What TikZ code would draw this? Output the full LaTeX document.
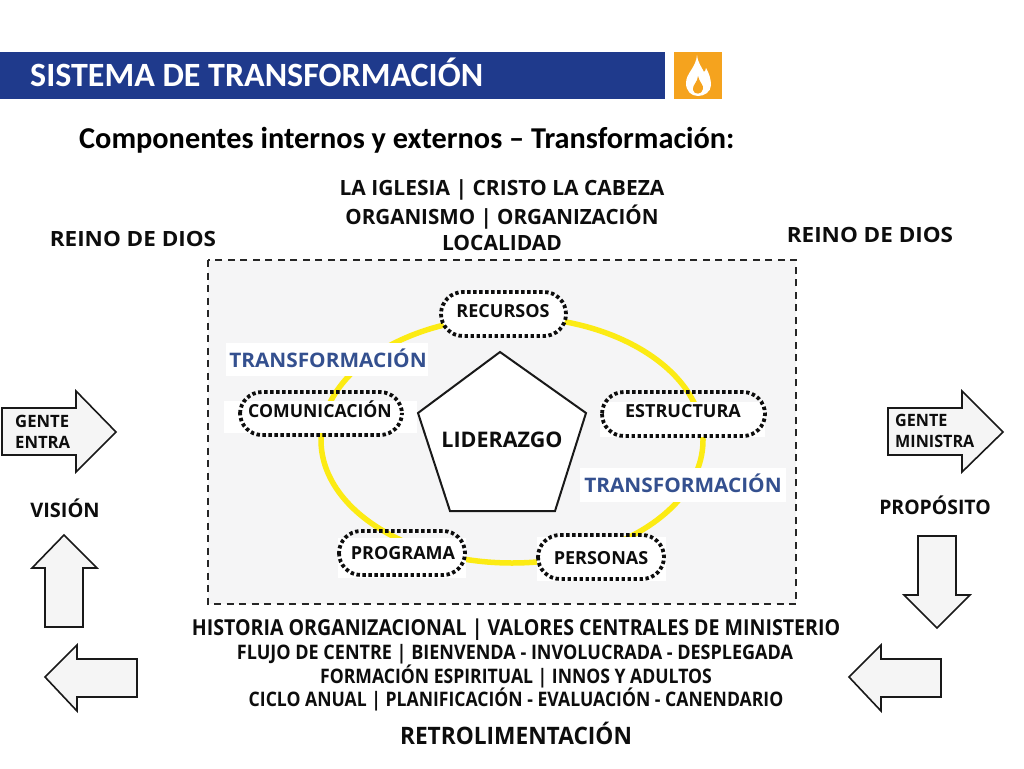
\documentclass[tikz,border=0pt]{standalone}
\usepackage{fontspec}
\usepackage{graphicx}
\setmainfont{Open Sans}
\newfontfamily\carl{Carlito}
\definecolor{hdr}{HTML}{1F3A8C}
\definecolor{orng}{HTML}{F5A31E}
\definecolor{pane}{HTML}{F5F5F6}
\definecolor{blu}{HTML}{34508F}
\definecolor{yel}{HTML}{FCEB14}
\definecolor{arr}{HTML}{F5F5F5}
\newcommand{\sx}[2]{\scalebox{#1}[1]{#2}}
\tikzset{
 x=1pt,y=-1pt,
 lbl/.style={inner sep=0pt,anchor=base,font=\bfseries\fontsize{#1}{#1}\selectfont,text=black!95},
 pill/.style={draw=black!95,line width=3.8pt,dash pattern=on 3.4pt off 2.6pt,rounded corners=22pt},
 block/.style={draw=black!90,line width=1.6pt,fill=arr,line join=miter},
 patch/.style={fill=white,draw=none},
}
\begin{document}
\begin{tikzpicture}
\useasboundingbox (0,0) rectangle (1024,768);
\fill[white] (0,0) rectangle (1024,768);
% header
\fill[hdr] (0,52) rectangle (665,99);
\fill[orng] (674,52) rectangle (722,99);
\fill[white] (697,55) .. controls (698,63) and (701,66) .. (704,72) .. controls (705,71) and (706,70) .. (706,68) .. controls (709,73) and (711,79) .. (711,85) .. controls (711,92) and (704,96) .. (698,96) .. controls (691,96) and (686,91) .. (686,83) .. controls (686,73) and (696,68) .. (697,55) -- cycle;
\fill[orng] (698,76) .. controls (698,82) and (692,85) .. (693,90) .. controls (694,95) and (702,95) .. (703,89) .. controls (704,85) and (699,82) .. (698,76) -- cycle;
\node[anchor=base west,inner sep=0pt,text=white] (title) at (30,86) {\carl\bfseries\fontsize{34}{36}\selectfont SISTEMA DE TRANSFORMACIÓN};
\node[anchor=base west,inner sep=0pt,text=black] (sub) at (79,148.5) {\carl\bfseries\fontsize{30.3}{32}\selectfont Componentes internos y externos – Transformación:};
% top text
\node[lbl=21] (t1) at (502,195.5) {\sx{1.0}{LA IGLESIA | CRISTO LA CABEZA}};
\node[lbl=21] (t2) at (502,224.5) {\sx{.98}{ORGANISMO | ORGANIZACIÓN}};
\node[lbl=21] (t3) at (502,250.5) {\sx{1.0}{LOCALIDAD}};
\node[lbl=21] (rl) at (133,246) {\sx{1.07}{REINO DE DIOS}};
\node[lbl=21] (rr) at (870,242) {\sx{1.07}{REINO DE DIOS}};
% panel
\draw[draw=black!85,line width=2pt,dash pattern=on 7pt off 5.5pt,fill=pane] (208,260) rectangle (796,604);
% ring
\draw[yel,line width=5.5pt] (512,440) ellipse [x radius=191,y radius=123];
% patches
\fill[patch] (226,343) rectangle (428,376);
\fill[patch] (224,401) rectangle (417,433);
\fill[patch] (580,468) rectangle (786,502);
\fill[patch] (600,402) rectangle (765,437);
\fill[patch] (338,538) rectangle (466,578);
\fill[patch] (537,537) rectangle (666,581);
\fill[patch,rounded corners=22pt] (441,292) rectangle (566,336);
% pentagon
\draw[draw=black!90,line width=2pt,fill=white,line join=miter] (500,352) -- (586,413) -- (555,511) -- (450,511) -- (418,413) -- cycle;
\node[lbl=21.5] (lid) at (502,447) {LIDERAZGO};
% pills
\draw[pill] (441,292) rectangle (566,336);
\node[lbl=18] (n1) at (503,317) {RECURSOS};
\draw[pill] (602,392) rectangle (765,436);
\node[lbl=18] (n2) at (683,417) {ESTRUCTURA};
\draw[pill] (240,392) rectangle (402,435);
\node[lbl=18] (n3) at (320,417) {\sx{.98}{COMUNICACIÓN}};
\draw[pill] (339,531) rectangle (465,575);
\node[lbl=18] (n4) at (403,559.5) {PROGRAMA};
\draw[pill] (538,535) rectangle (664,579);
\node[lbl=18] (n5) at (601,564) {PERSONAS};
% transformation labels
\node[lbl=20,text=blu] (tf1) at (328,367) {\sx{1.04}{TRANSFORMACIÓN}};
\node[lbl=20,text=blu] (tf2) at (683,492.5) {\sx{1.04}{TRANSFORMACIÓN}};
% arrows
\draw[block] (2,408) -- (76,408) -- (76,391) -- (116,432) -- (76,472) -- (76,455) -- (2,455) -- cycle;
\node[font=\bfseries\fontsize{17}{17}\selectfont,inner sep=0pt,text=black!95,align=left,anchor=west] (ge) at (15,431.5) {\sx{.98}{GENTE}\\[4pt]\sx{.98}{ENTRA}};
\node[lbl=20] (vis) at (65,517) {VISIÓN};
\draw[block] (64,535) -- (97,568) -- (83,568) -- (83,627) -- (45,627) -- (45,568) -- (32,568) -- cycle;
\draw[block] (45,677) -- (77,645) -- (77,659) -- (137,659) -- (137,697) -- (77,697) -- (77,711) -- cycle;
\draw[block] (888,408) -- (962,408) -- (962,391) -- (1003,432) -- (962,472) -- (962,455) -- (888,455) -- cycle;
\node[font=\bfseries\fontsize{17}{17}\selectfont,inner sep=0pt,text=black!95,align=left,anchor=west] (gm) at (895,431) {\sx{.95}{GENTE}\\[4pt]\sx{.95}{MINISTRA}};
\node[lbl=20] (pro) at (935,514.5) {\sx{.97}{PROPÓSITO}};
\draw[block] (937,628) -- (904,595) -- (918,595) -- (918,536) -- (956,536) -- (956,595) -- (970,595) -- cycle;
\draw[block] (849,677) -- (881,645) -- (881,659) -- (941,659) -- (941,697) -- (881,697) -- (881,711) -- cycle;
% bottom text
\node[lbl=22] (b1) at (516,635) {\sx{.89}{HISTORIA ORGANIZACIONAL | VALORES CENTRALES DE MINISTERIO}};
\node[lbl=20] (b2) at (515,659) {\sx{.90}{FLUJO DE CENTRE | BIENVENDA - INVOLUCRADA - DESPLEGADA}};
\node[lbl=20] (b3) at (516,683) {\sx{.88}{FORMACIÓN ESPIRITUAL | INNOS Y ADULTOS}};
\node[lbl=20] (b4) at (516,706) {\sx{.88}{CICLO ANUAL | PLANIFICACIÓN - EVALUACIÓN - CANENDARIO}};
\node[lbl=24] (b5) at (516,744) {\sx{.945}{RETROLIMENTACIÓN}};
\end{tikzpicture}
\end{document}
